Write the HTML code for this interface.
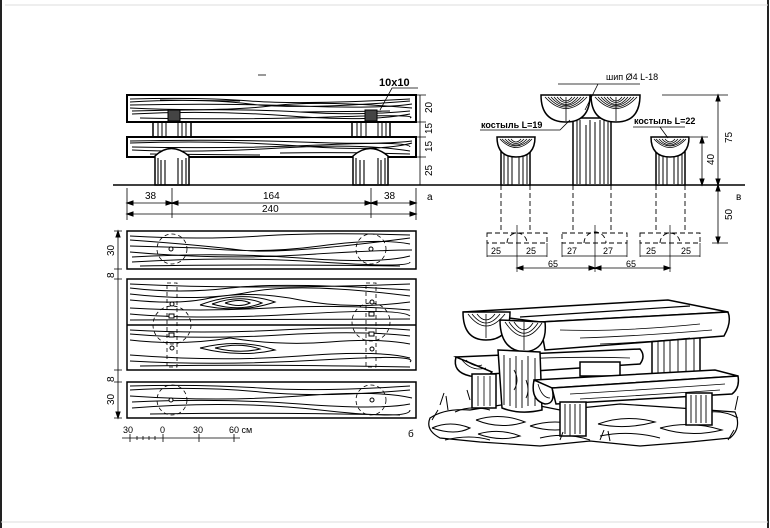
<!DOCTYPE html>
<html><head><meta charset="utf-8"><style>
html,body{margin:0;padding:0;background:#fff;}
svg{display:block;}
text{font-family:"Liberation Sans",sans-serif;fill:#000;}
</style></head><body>
<svg width="770" height="528" viewBox="0 0 770 528" xmlns="http://www.w3.org/2000/svg">
<rect x="0" y="0" width="770" height="528" fill="#fff"/>
<line x1="1" y1="0" x2="1" y2="528" stroke="#222" stroke-width="2"/>
<line x1="768" y1="0" x2="768" y2="528" stroke="#222" stroke-width="2"/>
<line x1="5" y1="5" x2="768" y2="5" stroke="#ddd" stroke-width="1"/>
<line x1="1" y1="522" x2="768" y2="522" stroke="#ddd" stroke-width="1"/>

<g stroke="#000" fill="none" stroke-width="1">
<!-- ===== Elevation a ===== -->
<rect x="153" y="120" width="38" height="18" fill="#fff" stroke-width="1.5"/>
<rect x="352" y="120" width="38" height="18" fill="#fff" stroke-width="1.5"/>
<path d="M158 122v15M162 122v15M166 122v15M178 122v15M182 122v15M186 122v15M357 122v15M361 122v15M366 122v15M378 122v15M382 122v15M386 122v15"/>
<rect x="127" y="95" width="289" height="27" fill="#fff" stroke-width="2"/>
<path d="M130 99 Q200 97 250 101 T410 99 M130 102 Q200 98 250 104 T410 101 M130 105 Q220 103 300 106 T412 104 M130 108 Q220 112 270 106 T412 108 M132 111 Q240 108 300 112 T410 111 M132 114 Q210 110 290 116 T410 114 M140 118 Q240 120 330 117 T410 118 M160 100 L240 101 M300 112 L390 111"/>
<rect x="168" y="110" width="12" height="11" fill="#444"/>
<rect x="365" y="110" width="12" height="11" fill="#444"/>
<rect x="127" y="137" width="289" height="20" fill="#fff" stroke-width="2"/>
<path d="M130 141 Q220 139 300 142 T412 141 M130 143 Q220 140 300 146 T412 143 M132 147 Q230 149 320 145 T410 147 M132 150 Q200 153 280 148 T410 151 M150 154 L260 155 M280 153 Q350 152 410 154"/>
<path d="M155 185 V156 Q171 141 189 156 V185 Z" fill="#fff" stroke-width="1.5"/>
<path d="M353 185 V156 Q370 141 388 156 V185 Z" fill="#fff" stroke-width="1.5"/>
<path d="M158 158v26M161 160v25M165 160v25M178 158v26M182 160v25M186 158v26M356 158v26M360 160v25M364 160v25M378 158v26M381 160v25M385 158v26" stroke-width="1.1"/>
<line x1="113" y1="185" x2="745" y2="185" stroke-width="1.5"/>
<path d="M127 188v32M416 188v32M172 188v30M371 188v30" stroke-width="0.8"/>
<path d="M127 203H416M127 214H416" stroke-width="0.8"/>
<path d="M127 203l6-2v4zM172 203l-6-2v4zM172 203l6-2v4zM371 203l-6-2v4zM371 203l6-2v4zM416 203l-6-2v4zM127 214l6-2v4zM416 214l-6-2v4z" fill="#000"/>
<path d="M420 95V185M414 95h12M414 122h12M414 137h12M414 157h12M414 185h12" stroke-width="0.8"/>
<path d="M380 110 L392 88 H418" stroke-width="0.8"/>
<path d="M258 75h8" stroke-width="0.8"/>

<!-- ===== Side view в ===== -->
<path d="M573 185 V118 H611 V185 Z" fill="#fff" stroke-width="1.5"/>
<path d="M577 120v64M580 120v64M586 125v60M590 120v64M595 122v62M600 120v64M604 120v64M608 122v62"/>
<path d="M541 95 H590 Q590 122 566 122 Q541 122 541 95Z" fill="#fff" stroke-width="1.5"/>
<path d="M591 95 H640 Q640 122 616 122 Q591 122 591 95Z" fill="#fff" stroke-width="1.5"/>
<path d="M545 97 Q566 120 587 97 M548 97 Q566 117 584 97 M551 97 Q566 114 581 97 M554 97 Q566 112 578 97 M557 97 Q566 108 575 97 M560 97 Q566 105 572 97 M595 97 Q616 120 637 97 M598 97 Q616 117 634 97 M601 97 Q616 114 631 97 M604 97 Q616 112 628 97 M607 97 Q616 108 625 97 M610 97 Q616 105 622 97 M566 97 L566 121 M616 97 L616 121" stroke-width="0.8"/>
<path d="M501 185 V152 H530 V185Z" fill="#fff" stroke-width="1.5"/>
<path d="M504 154v30M508 156v29M512 156v29M519 154v30M523 156v29M527 154v30"/>
<path d="M497 137 H535 Q535 157 516 157 Q497 157 497 137Z" fill="#fff" stroke-width="1.5"/>
<path d="M500 139 Q516 156 532 139 M502 139 Q516 153 530 139 M505 139 Q516 151 527 139 M508 139 Q516 148 524 139 M511 139 Q516 145 521 139" stroke-width="0.8"/>
<path d="M656 185 V152 H685 V185Z" fill="#fff" stroke-width="1.5"/>
<path d="M659 154v30M663 156v29M667 156v29M674 154v30M678 156v29M682 154v30"/>
<path d="M651 137 H689 Q689 157 670 157 Q651 157 651 137Z" fill="#fff" stroke-width="1.5"/>
<path d="M654 139 Q670 156 686 139 M656 139 Q670 153 684 139 M659 139 Q670 151 681 139 M662 139 Q670 148 678 139 M665 139 Q670 145 675 139" stroke-width="0.8"/>
<g stroke-dasharray="5,3" stroke-width="0.9">
<path d="M501 185V233M530 185V233M573 185V233M611 185V233M656 185V233M685 185V233"/>
<rect x="487" y="233" width="60" height="10"/>
<rect x="562" y="233" width="65" height="10"/>
<rect x="640" y="233" width="60" height="10"/>
<path d="M507 243 A10 10 0 0 1 527 243 M584 243 A11 11 0 0 1 606 243 M660 243 A10 10 0 0 1 680 243"/>
</g>
<path d="M517 225V272M595 225V272M670 225V272M487 243v14M547 243v14M562 243v14M627 243v14M640 243v14M700 243v14" stroke-width="0.7"/>
<path d="M487 256H547M562 256H627M640 256H700M517 268H670" stroke-width="0.8"/>
<path d="M517 268l6-2v4zM595 268l-6-2v4zM595 268l6-2v4zM670 268l-6-2v4z" fill="#000"/>
<path d="M718 95V243M702 137V185M662 95h66M690 137h18M712 243h16" stroke-width="0.8"/>
<path d="M718 95l-2 6h4zM718 185l-2-6h4zM718 185l-2 6h4zM718 243l-2-6h4zM702 137l-2 6h4zM702 185l-2-6h4z" fill="#000"/>
<path d="M558 84 H640 M598 84 L585 110" stroke-width="0.8"/>
<path d="M480 130 H560 L570 120" stroke-width="0.8"/>
<path d="M633 127 H685 M660 127 L668 138" stroke-width="0.8"/>

<!-- ===== Plan б ===== -->
<rect x="127" y="231" width="289" height="38" fill="#fff" stroke-width="1.5"/>
<rect x="127" y="279" width="289" height="91" fill="#fff" stroke-width="1.5"/>
<line x1="127" y1="325" x2="416" y2="325" stroke-width="1.5"/>
<rect x="127" y="382" width="289" height="36" fill="#fff" stroke-width="1.5"/>
<path d="M130 236 Q200 240 260 236 T410 235 M130 240 Q200 245 240 250 T410 238 M130 246 L200 248 Q260 254 320 246 T410 244 M130 252 Q220 260 300 255 T412 250 M132 257 Q220 252 300 258 T410 256 M132 262 Q230 256 320 262 T410 262 M140 266 Q250 264 400 266"/>
<path d="M130 284 Q250 290 410 284 M130 288 Q180 294 230 288 T410 290 M130 294 Q200 302 250 292 T410 296 M130 300 Q180 305 210 298 Q250 290 300 300 T410 302 M200 305 Q240 290 275 302 Q240 314 200 305 M212 304 Q240 294 262 303 Q240 312 212 304 M225 303 Q240 298 250 303 Q240 308 225 303 M130 308 Q200 312 270 308 T410 310 M130 314 Q200 320 300 314 T410 316 M130 320 L410 319"/>
<path d="M130 330 Q200 334 280 330 T410 330 M130 334 Q200 340 280 335 T410 336 M130 340 Q180 346 230 338 Q280 346 330 342 T410 344 M200 348 Q240 338 275 350 Q240 358 200 348 M215 348 Q240 342 260 349 Q240 354 215 348 M130 355 Q220 362 300 356 T410 358 M130 361 Q220 366 320 360 T410 362 M140 366 Q250 364 410 367"/>
<path d="M130 386 Q200 384 260 388 T410 386 M130 390 Q200 386 260 392 T410 390 M130 396 Q220 402 300 396 T412 398 M132 402 Q220 398 300 404 T410 404 M132 408 Q230 400 320 410 T410 410 M150 414 Q250 412 400 415"/>
<g stroke-dasharray="4,3" stroke-width="0.8">
<circle cx="172" cy="249" r="15"/><circle cx="371" cy="249" r="15"/>
<circle cx="172" cy="400" r="15"/><circle cx="371" cy="400" r="15"/>
<circle cx="172" cy="325" r="19"/><circle cx="371" cy="322" r="19"/>
<rect x="167" y="283" width="10" height="84"/><rect x="366" y="283" width="10" height="84"/>
</g>
<g fill="#fff">
<circle cx="171" cy="249" r="2"/><circle cx="371" cy="249" r="2"/><circle cx="171" cy="400" r="2"/><circle cx="372" cy="400" r="2"/>
<circle cx="172" cy="304" r="2"/><circle cx="172" cy="348" r="2"/><circle cx="372" cy="302" r="2"/><circle cx="372" cy="349" r="2"/>
<rect x="169" y="314" width="5" height="4"/><rect x="169" y="333" width="5" height="4"/><rect x="369" y="312" width="5" height="4"/><rect x="369" y="332" width="5" height="4"/>
</g>
<path d="M118 231V418M114 231h8M114 269h8M114 279h8M114 370h8M114 382h8M114 418h8" stroke-width="0.8"/>
<path d="M118 231l-2 6h4zM118 418l-2-6h4z" fill="#000"/>
<path d="M122 438H240M130 434v8M163 434v8M199 434v8M234 434v8M137 436v4M143 436v4M149 436v4M155 436v4" stroke-width="0.8"/>

<!-- ===== Perspective ===== -->
<g stroke-width="1.2" fill="#fff">
<path d="M430 418 Q445 408 470 410 L520 402 L560 410 L620 404 L680 408 L735 412 Q742 428 730 438 L690 442 L640 446 L590 441 L540 446 L480 442 L440 438 Q425 430 430 418Z" fill="#fff"/>
</g>
<path d="M432 428 Q450 420 470 428 Q455 436 432 428 M476 420 Q500 412 525 422 Q500 430 476 420 M478 434 Q500 428 520 436 Q500 442 478 434 M530 426 Q555 418 580 426 Q555 434 530 426 M540 438 Q565 432 590 440 M598 424 Q625 414 655 422 Q625 430 598 424 M600 436 Q630 430 660 438 M660 428 Q690 420 722 430 Q690 438 660 428 M700 414 Q720 408 738 418 M455 412 Q470 405 490 410 M445 440 Q470 434 490 440" stroke-width="1"/>
<!-- back right post -->
<rect x="652" y="334" width="48" height="44" fill="#fff" stroke-width="1.5"/>
<path d="M658 336v40M664 338v40M670 336v40M678 338v40M686 336v40M694 338v40" stroke-width="0.9"/>
<!-- back bench -->
<path d="M456 357 L640 349 Q646 356 640 364 L490 374 Z" fill="#fff" stroke-width="1.5"/>
<path d="M456 357 Q452 372 470 376 Q488 378 492 372 Z" fill="#fff" stroke-width="1.5"/>
<path d="M462 360 Q472 372 486 368 M466 360 Q474 368 482 365" stroke-width="0.8"/>
<path d="M500 360 Q570 356 630 358" stroke-width="0.8"/>
<rect x="472" y="374" width="24" height="34" fill="#fff" stroke-width="1.5"/>
<path d="M478 376v30M484 376v30M490 376v30" stroke-width="0.8"/>
<rect x="580" y="362" width="40" height="14" fill="#fff" stroke-width="1.5"/>
<!-- table top -->
<path d="M463 312 L668 300 L728 312 L540 322 Z" fill="#fff" stroke-width="1.5"/>
<path d="M540 322 L728 312 Q732 322 724 336 L545 350 Z" fill="#fff" stroke-width="1.5"/>
<path d="M520 317 L690 306" stroke-width="1.2"/>
<path d="M560 330 Q620 332 700 324 M580 338 Q640 336 712 330 M600 344 Q650 342 690 338" stroke-width="0.8"/>
<path d="M463 312 L510 312 Q510 340 486 340 Q463 340 463 312Z" fill="#fff" stroke-width="1.5"/>
<path d="M468 314 Q486 338 505 314 M472 314 Q486 332 500 314 M477 314 Q486 326 495 314 M486 314 L486 338" stroke-width="0.8"/>
<path d="M500 320 L545 322 Q548 350 524 352 Q500 350 500 320Z" fill="#fff" stroke-width="1.5"/>
<path d="M505 322 Q524 350 542 323 M509 322 Q524 344 538 323 M514 322 Q524 337 533 323 M524 322 L524 350" stroke-width="0.8"/>
<!-- front big post -->
<path d="M498 350 L540 352 L542 410 Q520 415 502 408 Z" fill="#fff" stroke-width="1.5"/>
<path d="M504 355v50M510 358v48M516 356v52M522 360v48M528 356v50M535 358v48" stroke-width="0.9"/>
<path d="M514 370 Q520 380 514 390 M526 380 Q530 390 526 398" stroke-width="0.9"/>
<!-- front bench -->
<path d="M534 380 L715 370 L738 376 L552 388 Z" fill="#fff" stroke-width="1.5"/>
<path d="M552 388 L738 376 Q740 388 732 394 L556 404 Z" fill="#fff" stroke-width="1.5"/>
<path d="M534 380 L552 388 Q556 404 545 404 Q530 400 534 380Z" fill="#fff" stroke-width="1.5"/>
<path d="M538 384 Q542 398 550 398" stroke-width="0.8"/>
<path d="M570 394 Q640 390 725 384 M580 399 Q650 395 720 390" stroke-width="0.8"/>
<rect x="560" y="402" width="26" height="34" fill="#fff" stroke-width="1.5"/>
<rect x="686" y="393" width="26" height="32" fill="#fff" stroke-width="1.5"/>
<path d="M565 404v30M570 404v32M575 404v30M580 404v30M691 395v28M696 395v28M701 395v28M706 395v28" stroke-width="0.9"/>
<path d="M440 405l4-12M448 410l-2-14M432 420l6-10M735 410l3-14M728 440l6-10M600 440l4-10M610 441l-2-10M560 440l3-8M470 400l-3-10" stroke-width="1"/>
</g>

<g font-size="10">
<text x="379" y="86" font-family="Liberation Serif,serif" font-weight="bold" font-size="11">10x10</text>
<text x="145" y="199">38</text><text x="263" y="199">164</text><text x="384" y="199">38</text>
<text x="262" y="212">240</text>
<text x="427" y="200">a</text>
<text x="736" y="200">в</text>
<text x="606" y="80" font-family="Liberation Serif,serif" font-size="9">шип Ø4 L-18</text>
<text x="481" y="128" font-weight="bold" font-size="9">костыль L=19</text>
<text x="634" y="124" font-weight="bold" font-size="9">костыль L=22</text>
<text x="491" y="254" font-size="9">25</text><text x="526" y="254" font-size="9">25</text>
<text x="567" y="254" font-size="9">27</text><text x="603" y="254" font-size="9">27</text>
<text x="646" y="254" font-size="9">25</text><text x="681" y="254" font-size="9">25</text>
<text x="548" y="267" font-size="9">65</text><text x="626" y="267" font-size="9">65</text>
<text x="408" y="437">б</text>
<text x="123" y="433" font-size="9">30</text><text x="160" y="433" font-size="9">0</text><text x="193" y="433" font-size="9">30</text><text x="229" y="433" font-size="9">60 см</text>
</g>
<g font-size="10">
<text transform="translate(432,113) rotate(-90)">20</text>
<text transform="translate(432,134) rotate(-90)">15</text>
<text transform="translate(432,152) rotate(-90)">15</text>
<text transform="translate(432,176) rotate(-90)">25</text>
<text transform="translate(732,143) rotate(-90)">75</text>
<text transform="translate(714,165) rotate(-90)">40</text>
<text transform="translate(732,220) rotate(-90)">50</text>
<text transform="translate(114,256) rotate(-90)">30</text>
<text transform="translate(114,278) rotate(-90)">8</text>
<text transform="translate(114,382) rotate(-90)">8</text>
<text transform="translate(114,405) rotate(-90)">30</text>
</g>
</svg>
</body></html>
